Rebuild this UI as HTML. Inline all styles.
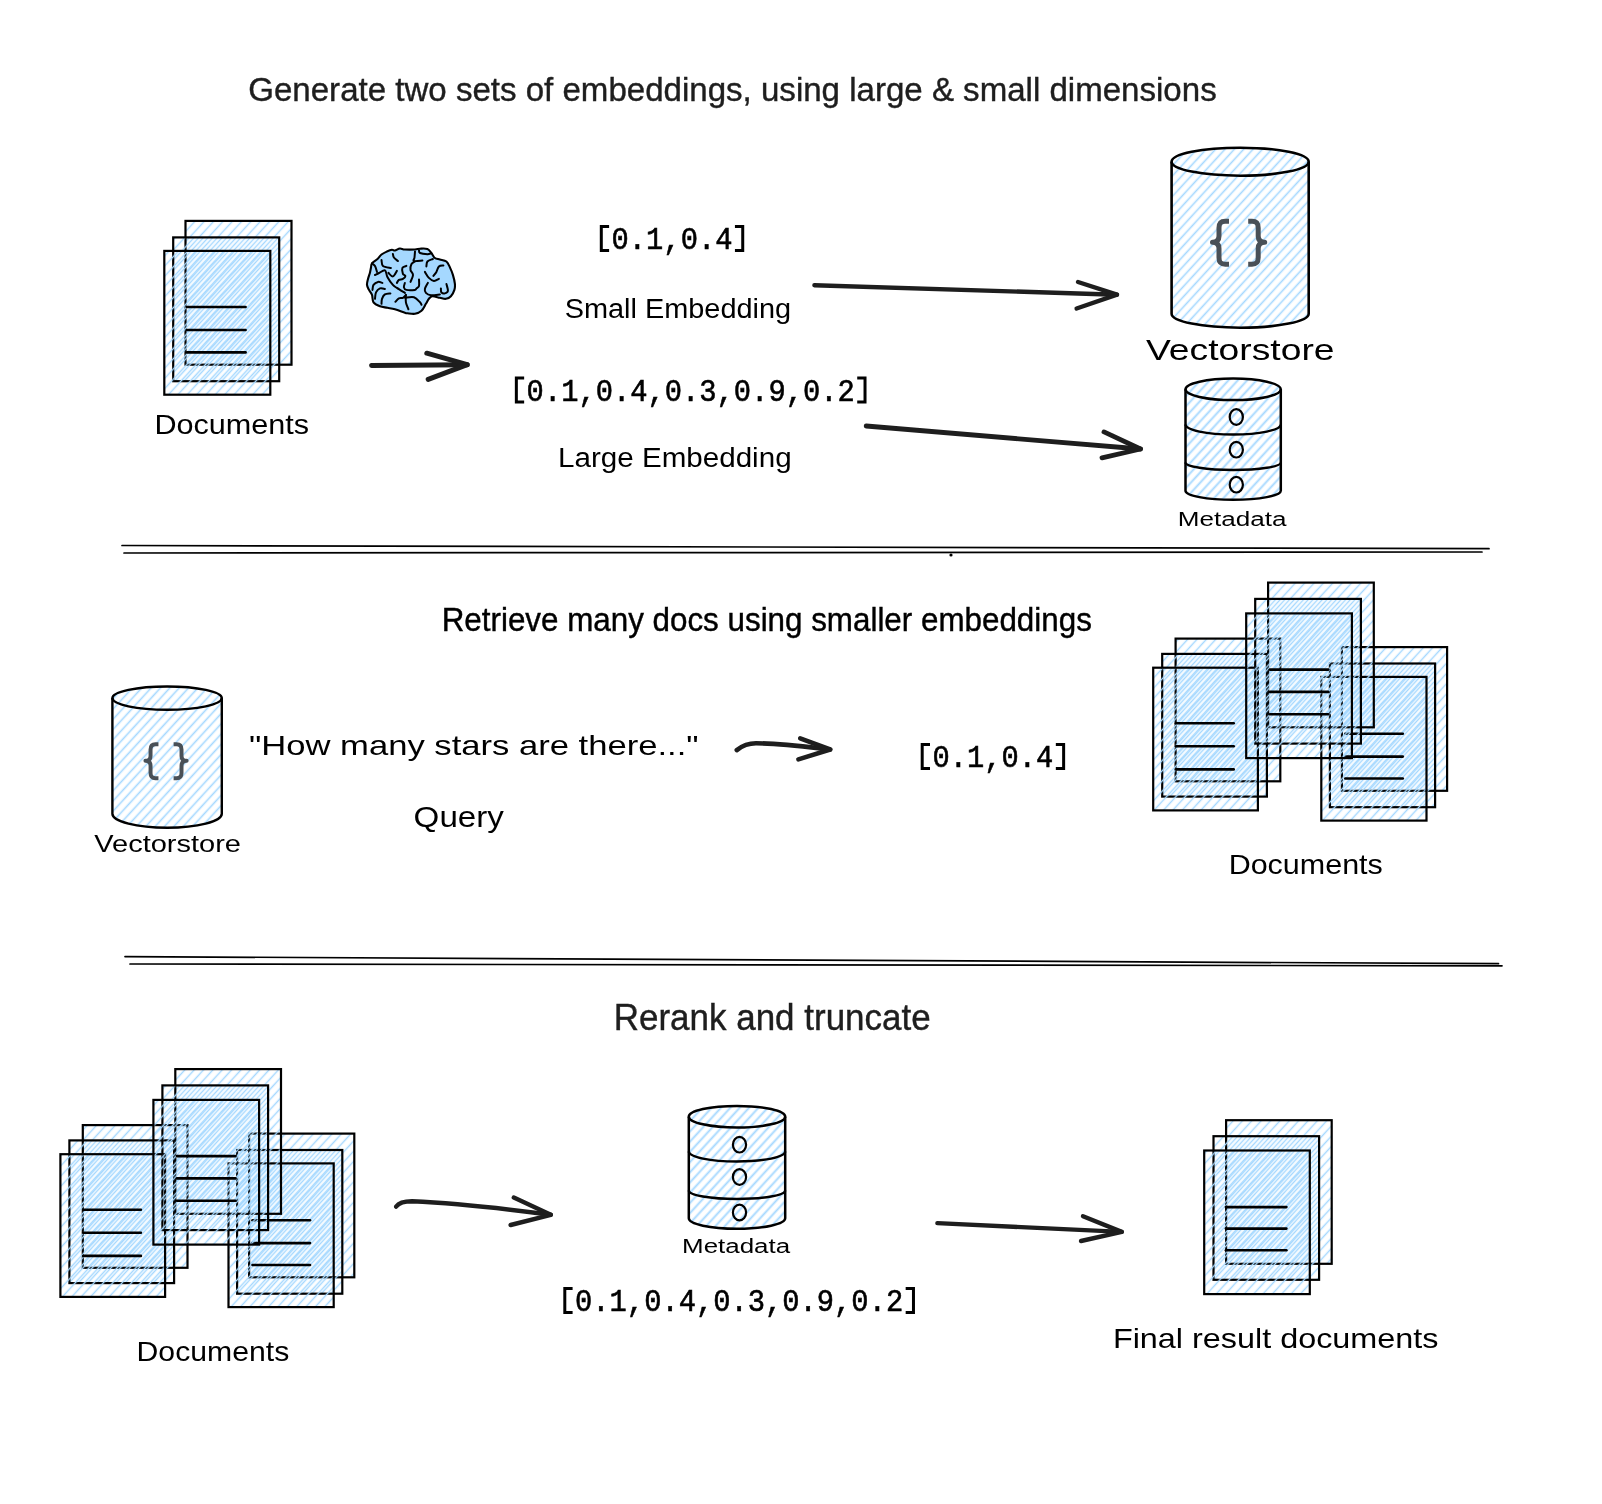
<!DOCTYPE html><html><head><meta charset="utf-8"><style>html,body{margin:0;padding:0;background:#fff;width:1602px;height:1504px;overflow:hidden}svg{display:block;will-change:transform}</style></head><body><svg width="1602" height="1504" viewBox="0 0 1602 1504">
<defs>
<pattern id="hach" patternUnits="userSpaceOnUse" width="6.9" height="20" patternTransform="rotate(42.5)"><line x1="3.45" y1="-2" x2="3.45" y2="22" stroke="#a5d8ff" stroke-width="1.45"/></pattern>
<pattern id="hachM" patternUnits="userSpaceOnUse" width="6.9" height="20" patternTransform="rotate(42.5)"><line x1="3.45" y1="-2" x2="3.45" y2="22" stroke="#a5d8ff" stroke-width="1.9"/></pattern>
<pattern id="hachC" patternUnits="userSpaceOnUse" width="6.9" height="20" patternTransform="rotate(42.5)"><line x1="3.45" y1="-2" x2="3.45" y2="22" stroke="#a5d8ff" stroke-width="1.6"/></pattern>
</defs>
<rect width="1602" height="1504" fill="#fff"/>
<g transform="translate(0,100.9) scale(1,1.03) translate(0,-100.9)"><text x="248.25" y="100.9" font-family="Liberation Sans" font-size="33" font-weight="normal" fill="#1e1e1e" textLength="968.43" lengthAdjust="spacingAndGlyphs" stroke="#1e1e1e" stroke-width="0.4">Generate two sets of embeddings, using large &amp; small dimensions</text></g>
<g transform="translate(0,0)"><rect x="185.5" y="220.9" width="106" height="143.8" fill="url(#hach)"/></g>
<rect x="185.5" y="220.9" width="106" height="143.8" fill="none" stroke="#000" stroke-width="2.2"/>
<g transform="translate(2.54,2.33)"><rect x="170.66" y="235.07" width="106" height="143.8" fill="url(#hach)"/></g>
<rect x="173.2" y="237.4" width="106" height="143.8" fill="none" stroke="#000" stroke-width="2.2"/>
<g transform="translate(0.74,0.68)"><rect x="163.56" y="250.22" width="106" height="143.8" fill="url(#hach)"/></g>
<rect x="164.3" y="250.9" width="106" height="143.8" fill="none" stroke="#000" stroke-width="2.2"/>
<line x1="187" y1="307" x2="245.6" y2="307" stroke="#000" stroke-width="2.6" stroke-linecap="round"/>
<line x1="187" y1="330" x2="245.6" y2="330" stroke="#000" stroke-width="2.6" stroke-linecap="round"/>
<line x1="187" y1="352.4" x2="245.6" y2="352.4" stroke="#000" stroke-width="2.6" stroke-linecap="round"/>
<text x="154.44" y="434" font-family="Liberation Sans" font-size="28" font-weight="normal" fill="#000" textLength="154.71" lengthAdjust="spacingAndGlyphs" stroke="#000" stroke-width="0">Documents</text>
<path d="M386.9,251.5 C388.63,250.7 390.57,249.87 391.9,249.7 C393.23,249.53 393.57,250.7 394.9,250.5 C396.23,250.3 398.23,248.67 399.9,248.5 C401.57,248.33 402.38,249.33 404.9,249.5 C407.42,249.67 412.48,249.63 415,249.5 C417.52,249.37 417.93,248.78 420,248.7 C422.07,248.62 425.5,248.28 427.4,249 C429.3,249.72 430.15,251.5 431.4,253 C432.65,254.5 433.48,256.92 434.9,258 C436.32,259.08 437.98,258.92 439.9,259.5 C441.82,260.08 444.73,260.18 446.4,261.5 C448.07,262.82 448.82,265.17 449.9,267.4 C450.98,269.63 452.07,272.15 452.9,274.9 C453.73,277.65 454.65,281.4 454.9,283.9 C455.15,286.4 455.07,287.83 454.4,289.9 C453.73,291.97 452.32,294.82 450.9,296.3 C449.48,297.78 447.73,298.55 445.9,298.8 C444.07,299.05 442.15,298.22 439.9,297.8 C437.65,297.38 434.23,296.13 432.4,296.3 C430.57,296.47 429.98,297.55 428.9,298.8 C427.82,300.05 427.13,301.8 425.9,303.8 C424.67,305.8 423.32,309.13 421.5,310.8 C419.68,312.47 417.33,313.38 415,313.8 C412.67,314.22 409.18,313.47 407.5,313.3 C405.82,313.13 407,313.47 404.9,312.8 C402.8,312.13 397.82,310.13 394.9,309.3 C391.98,308.47 389.88,308.3 387.4,307.8 C384.92,307.3 382.32,307.22 380,306.3 C377.68,305.38 374.83,304.2 373.5,302.3 C372.17,300.4 372.75,296.97 372,294.9 C371.25,292.83 369.83,291.57 369,289.9 C368.17,288.23 367.17,286.73 367,284.9 C366.83,283.07 367.5,280.98 368,278.9 C368.5,276.82 369.5,274.32 370,272.4 C370.5,270.48 370.67,268.9 371,267.4 C371.33,265.9 370.92,264.8 372,263.4 C373.08,262 375.92,260.48 377.5,259 C379.08,257.52 379.93,255.75 381.5,254.5 C383.07,253.25 385.17,252.3 386.9,251.5 Z" fill="#a5d8ff" stroke="#000" stroke-width="2.1" stroke-linejoin="round"/>
<path d="M392.9,254 C393.07,254.58 393.07,256.33 393.9,257.5 C394.73,258.67 397.23,260.42 397.9,261" fill="none" stroke="#000" stroke-width="2" stroke-linecap="round" stroke-linejoin="round"/>
<path d="M381.5,260 C381.75,261 381.43,264.67 383,266 C384.57,267.33 389.58,267.67 390.9,268" fill="none" stroke="#000" stroke-width="2" stroke-linecap="round" stroke-linejoin="round"/>
<path d="M375,275 C375.67,274.67 377.33,273.77 379,273 C380.67,272.23 383.6,269.75 385,270.4 C386.4,271.05 386.08,274.48 387.4,276.9 C388.72,279.32 391.32,283.07 392.9,284.9 C394.48,286.73 394.9,286.57 396.9,287.9 C398.9,289.23 403.57,292.07 404.9,292.9" fill="none" stroke="#000" stroke-width="2" stroke-linecap="round" stroke-linejoin="round"/>
<path d="M388.4,272.9 C389.15,273.48 391.48,276.73 392.9,276.4 C394.32,276.07 396.23,271.82 396.9,270.9" fill="none" stroke="#000" stroke-width="2" stroke-linecap="round" stroke-linejoin="round"/>
<path d="M406.4,265.9 C405.73,266.23 402.98,266.57 402.4,267.9 C401.82,269.23 402.4,272.57 402.9,273.9 C403.4,275.23 405.4,275.07 405.4,275.9 C405.4,276.73 403.98,278.23 402.9,278.9 C401.82,279.57 399.9,279.23 398.9,279.9 C397.9,280.57 397.23,282.4 396.9,282.9" fill="none" stroke="#000" stroke-width="2" stroke-linecap="round" stroke-linejoin="round"/>
<path d="M382.4,282.9 C381.67,282.73 379.48,281.57 378,281.9 C376.52,282.23 374.42,283.57 373.5,284.9 C372.58,286.23 372.67,289.07 372.5,289.9" fill="none" stroke="#000" stroke-width="2" stroke-linecap="round" stroke-linejoin="round"/>
<path d="M384.9,288.9 C384.08,288.82 381.48,287.82 380,288.4 C378.52,288.98 376.83,290.67 376,292.4 C375.17,294.13 375.17,297.73 375,298.8" fill="none" stroke="#000" stroke-width="2" stroke-linecap="round" stroke-linejoin="round"/>
<path d="M390.4,293.4 C389.48,293.57 386.3,293.5 384.9,294.4 C383.5,295.3 382.57,297.23 382,298.8 C381.43,300.37 381.58,302.97 381.5,303.8" fill="none" stroke="#000" stroke-width="2" stroke-linecap="round" stroke-linejoin="round"/>
<path d="M395.4,301.8 C395.98,301.22 397.65,298.97 398.9,298.3 C400.15,297.63 401.73,298.37 402.9,297.8 C404.07,297.23 405.4,295.38 405.9,294.9" fill="none" stroke="#000" stroke-width="2" stroke-linecap="round" stroke-linejoin="round"/>
<path d="M405.9,294.9 C405.9,296.13 405.48,299.9 405.9,302.3 C406.32,304.7 407.98,308.13 408.4,309.3" fill="none" stroke="#000" stroke-width="2" stroke-linecap="round" stroke-linejoin="round"/>
<path d="M404.9,282.9 C404.73,283.65 403.65,286.23 403.9,287.4 C404.15,288.57 404.57,289.48 406.4,289.9 C408.23,290.32 413.22,290.15 414.9,289.9 C416.58,289.65 415.82,289.07 416.5,288.4 C417.18,287.73 418.58,287.4 419,285.9 C419.42,284.4 419,280.48 419,279.4" fill="none" stroke="#000" stroke-width="2" stroke-linecap="round" stroke-linejoin="round"/>
<path d="M415,251.5 C414.92,252.5 414.67,255.92 414.5,257.5 C414.33,259.08 412.68,260.5 414,261 C415.32,261.5 421,260.58 422.4,260.5" fill="none" stroke="#000" stroke-width="2" stroke-linecap="round" stroke-linejoin="round"/>
<path d="M415,261.5 C414.42,261.92 412.25,262.58 411.5,264 C410.75,265.42 410.25,268.18 410.5,270 C410.75,271.82 413,272.92 413,274.9 C413,276.88 410.92,280.73 410.5,281.9" fill="none" stroke="#000" stroke-width="2" stroke-linecap="round" stroke-linejoin="round"/>
<path d="M426.4,266.4 C426.57,265.58 426.32,262.73 427.4,261.5 C428.48,260.27 431.98,259.42 432.9,259" fill="none" stroke="#000" stroke-width="2" stroke-linecap="round" stroke-linejoin="round"/>
<path d="M424.9,271.9 C425.57,272.9 427.4,276.4 428.9,277.9 C430.4,279.4 432.23,280.73 433.9,280.9 C435.57,281.07 438.07,279.23 438.9,278.9" fill="none" stroke="#000" stroke-width="2" stroke-linecap="round" stroke-linejoin="round"/>
<path d="M443.4,265.4 C442.65,265.57 440.07,265.32 438.9,266.4 C437.73,267.48 437.32,270.32 436.4,271.9 C435.48,273.48 433.9,275.23 433.4,275.9" fill="none" stroke="#000" stroke-width="2" stroke-linecap="round" stroke-linejoin="round"/>
<path d="M427.9,282.9 C427.4,283.9 425.23,287.23 424.9,288.9 C424.57,290.57 424.9,291.83 425.9,292.9 C426.9,293.97 428.57,295.05 430.9,295.3 C433.23,295.55 438.4,294.55 439.9,294.4" fill="none" stroke="#000" stroke-width="2" stroke-linecap="round" stroke-linejoin="round"/>
<path d="M440.9,288.4 C440.98,289.07 440.73,291.57 441.4,292.4 C442.07,293.23 443.82,293.65 444.9,293.4 C445.98,293.15 447.65,292.48 447.9,290.9 C448.15,289.32 446.65,285.07 446.4,283.9" fill="none" stroke="#000" stroke-width="2" stroke-linecap="round" stroke-linejoin="round"/>
<path d="M405,297.8 C406.5,297.72 411.5,296.55 414,297.3 C416.5,298.05 418.75,301.05 420,302.3 C421.25,303.55 421.25,304.38 421.5,304.8" fill="none" stroke="#000" stroke-width="2" stroke-linecap="round" stroke-linejoin="round"/>
<path d="M419,250.5 C419.17,250.92 418.6,252.38 420,253 C421.4,253.62 425.58,254.12 427.4,254.2 C429.22,254.28 430.32,253.62 430.9,253.5" fill="none" stroke="#000" stroke-width="2" stroke-linecap="round" stroke-linejoin="round"/>
<path d="M372,263.4 C372.5,263.83 374.17,264.57 375,266 C375.83,267.43 376.67,271 377,272" fill="none" stroke="#000" stroke-width="2" stroke-linecap="round" stroke-linejoin="round"/>
<path d="M371.6,365.6 L467.2,364.7" fill="none" stroke="#1e1e1e" stroke-width="5.0" stroke-linecap="round" stroke-linejoin="round"/>
<path d="M426.8,353.2 L467.2,364.7 L428.2,379.4" fill="none" stroke="#1e1e1e" stroke-width="5.0" stroke-linecap="round" stroke-linejoin="round"/>
<g transform="translate(0,249) scale(1,1.06) translate(0,-249)"><text x="594.3" y="249" font-family="Liberation Mono" font-size="29" fill="#000" stroke="#000" stroke-width="0.55" textLength="155.43" lengthAdjust="spacingAndGlyphs" xml:space="preserve"> 0.1,0.4 </text></g>
<path d="M609.1,226.4 L601.3,226.4 L601.3,250.5 L609.1,250.5" fill="none" stroke="#000" stroke-width="3"/>
<path d="M734.93,226.4 L742.73,226.4 L742.73,250.5 L734.93,250.5" fill="none" stroke="#000" stroke-width="3"/>
<text x="564.66" y="318" font-family="Liberation Sans" font-size="27" font-weight="normal" fill="#000" textLength="226.48" lengthAdjust="spacingAndGlyphs" stroke="#000" stroke-width="0">Small Embedding</text>
<g transform="translate(0,400.6) scale(1,1.06) translate(0,-400.6)"><text x="509.35" y="400.6" font-family="Liberation Mono" font-size="29" fill="#000" stroke="#000" stroke-width="0.55" textLength="362.67" lengthAdjust="spacingAndGlyphs" xml:space="preserve"> 0.1,0.4,0.3,0.9,0.2 </text></g>
<path d="M524.15,378 L516.35,378 L516.35,402.1 L524.15,402.1" fill="none" stroke="#000" stroke-width="3"/>
<path d="M857.22,378 L865.02,378 L865.02,402.1 L857.22,402.1" fill="none" stroke="#000" stroke-width="3"/>
<text x="558.03" y="467.4" font-family="Liberation Sans" font-size="27" font-weight="normal" fill="#000" textLength="233.58" lengthAdjust="spacingAndGlyphs" stroke="#000" stroke-width="0">Large Embedding</text>
<path d="M814.4,285.3 L1117,294.7" fill="none" stroke="#1e1e1e" stroke-width="4.4" stroke-linecap="round" stroke-linejoin="round"/>
<path d="M1078,282 L1117,294.7 L1076.6,308.5" fill="none" stroke="#1e1e1e" stroke-width="4.4" stroke-linecap="round" stroke-linejoin="round"/>
<path d="M866.2,426 L1140.5,449" fill="none" stroke="#1e1e1e" stroke-width="4.8" stroke-linecap="round" stroke-linejoin="round"/>
<path d="M1104,431.9 L1140.5,449 L1102,457.8" fill="none" stroke="#1e1e1e" stroke-width="4.8" stroke-linecap="round" stroke-linejoin="round"/>
<g transform="translate(1171.6,147.7)"><path transform="translate(-1171.6,-147.7)" d="M1171.6,161.7 L1171.6,313.7 A68.55,14 0 0 0 1308.7,313.7 L1308.7,161.7 A68.55,14 0 0 0 1171.6,161.7 Z" fill="url(#hachC)"/></g>
<path d="M1171.6,161.7 L1171.6,313.7 A68.55,14 0 0 0 1308.7,313.7 L1308.7,161.7" fill="none" stroke="#000" stroke-width="2.6" stroke-linejoin="round"/>
<ellipse cx="1240.15" cy="161.7" rx="68.55" ry="14" fill="none" stroke="#000" stroke-width="2.6"/>
<g transform="translate(1210.2,219) scale(1.0)" fill="none" stroke="#495057" stroke-width="5" stroke-linejoin="round"><path d="M18.8,2.3 L15,2.3 C10.5,2.3 8.8,4.5 8.8,9 L8.8,17 C8.8,21 6.5,23.2 2.3,23.2 C6.5,23.2 8.8,25.4 8.8,29.5 L8.8,38.5 C8.8,43 10.5,45.2 15,45.2 L18.8,45.2"/><path transform="translate(56.8,0) scale(-1,1)" d="M18.8,2.3 L15,2.3 C10.5,2.3 8.8,4.5 8.8,9 L8.8,17 C8.8,21 6.5,23.2 2.3,23.2 C6.5,23.2 8.8,25.4 8.8,29.5 L8.8,38.5 C8.8,43 10.5,45.2 15,45.2 L18.8,45.2"/></g>
<text x="1146.08" y="360.3" font-family="Liberation Sans" font-size="29" font-weight="normal" fill="#000" textLength="188.45" lengthAdjust="spacingAndGlyphs" stroke="#000" stroke-width="0">Vectorstore</text>
<g transform="translate(1185.5,378.5)"><path transform="translate(-1185.5,-378.5)" d="M1185.5,389.3 L1185.5,490.75 A47.65,9 0 0 0 1280.8,490.75 L1280.8,389.3 A47.65,10.8 0 0 0 1185.5,389.3 Z" fill="url(#hachM)"/></g>
<path d="M1185.5,389.3 L1185.5,490.75 A47.65,9 0 0 0 1280.8,490.75 L1280.8,389.3" fill="none" stroke="#000" stroke-width="2.5" stroke-linejoin="round"/>
<ellipse cx="1233.15" cy="389.3" rx="47.65" ry="10.8" fill="none" stroke="#000" stroke-width="2.5"/>
<path d="M1185.5,424.5 A47.65,10 0 0 0 1280.8,424.5" fill="none" stroke="#000" stroke-width="2.4"/>
<path d="M1185.5,462.5 A47.65,7.5 0 0 0 1280.8,462.5" fill="none" stroke="#000" stroke-width="2.4"/>
<ellipse cx="1236.3" cy="417" rx="6.6" ry="7.8" fill="none" stroke="#000" stroke-width="2.2"/>
<ellipse cx="1236.3" cy="449.7" rx="6.6" ry="7.8" fill="none" stroke="#000" stroke-width="2.2"/>
<ellipse cx="1236.3" cy="484.7" rx="6.6" ry="7.8" fill="none" stroke="#000" stroke-width="2.2"/>
<text x="1177.85" y="526" font-family="Liberation Sans" font-size="20" font-weight="normal" fill="#000" textLength="108.61" lengthAdjust="spacingAndGlyphs" stroke="#000" stroke-width="0">Metadata</text>
<line x1="122" y1="545.5" x2="1489" y2="548.7" stroke="#000" stroke-width="1.7" stroke-linecap="round"/>
<line x1="124" y1="553" x2="1482" y2="552" stroke="#000" stroke-width="1.7" stroke-linecap="round"/>
<circle cx="951" cy="555" r="1.6" fill="#000"/>
<g transform="translate(0,630.9) scale(1,1.03) translate(0,-630.9)"><text x="441.7" y="630.9" font-family="Liberation Sans" font-size="31.4" font-weight="normal" fill="#000" textLength="650.14" lengthAdjust="spacingAndGlyphs" stroke="#000" stroke-width="0.4">Retrieve many docs using smaller embeddings</text></g>
<g transform="translate(112.4,686.5)"><path transform="translate(-112.4,-686.5)" d="M112.4,698.1 L112.4,813.8 A54.7,14 0 0 0 221.8,813.8 L221.8,698.1 A54.7,11.6 0 0 0 112.4,698.1 Z" fill="url(#hachC)"/></g>
<path d="M112.4,698.1 L112.4,813.8 A54.7,14 0 0 0 221.8,813.8 L221.8,698.1" fill="none" stroke="#000" stroke-width="2.4" stroke-linejoin="round"/>
<ellipse cx="167.1" cy="698.1" rx="54.7" ry="11.6" fill="none" stroke="#000" stroke-width="2.4"/>
<g transform="translate(143.6,742.5) scale(0.79)" fill="none" stroke="#495057" stroke-width="5" stroke-linejoin="round"><path d="M18.8,2.3 L15,2.3 C10.5,2.3 8.8,4.5 8.8,9 L8.8,17 C8.8,21 6.5,23.2 2.3,23.2 C6.5,23.2 8.8,25.4 8.8,29.5 L8.8,38.5 C8.8,43 10.5,45.2 15,45.2 L18.8,45.2"/><path transform="translate(56.8,0) scale(-1,1)" d="M18.8,2.3 L15,2.3 C10.5,2.3 8.8,4.5 8.8,9 L8.8,17 C8.8,21 6.5,23.2 2.3,23.2 C6.5,23.2 8.8,25.4 8.8,29.5 L8.8,38.5 C8.8,43 10.5,45.2 15,45.2 L18.8,45.2"/></g>
<text x="94.28" y="851.5" font-family="Liberation Sans" font-size="23" font-weight="normal" fill="#000" textLength="146.69" lengthAdjust="spacingAndGlyphs" stroke="#000" stroke-width="0">Vectorstore</text>
<text x="248.96" y="754.5" font-family="Liberation Sans" font-size="28" font-weight="normal" fill="#000" textLength="449.63" lengthAdjust="spacingAndGlyphs" stroke="#000" stroke-width="0">"How many stars are there..."</text>
<text x="413.64" y="827.4" font-family="Liberation Sans" font-size="30" font-weight="normal" fill="#000" textLength="90.28" lengthAdjust="spacingAndGlyphs" stroke="#000" stroke-width="0">Query</text>
<path d="M736.8,750.1 C742,746 747,743.3 756,743.3 C780,743.3 800,746 830.2,749.5" fill="none" stroke="#1e1e1e" stroke-width="4.6" stroke-linecap="round" stroke-linejoin="round"/>
<path d="M800.2,738.4 L830.2,749.5 L798.4,759.4" fill="none" stroke="#1e1e1e" stroke-width="4.6" stroke-linecap="round" stroke-linejoin="round"/>
<g transform="translate(0,767) scale(1,1.06) translate(0,-767)"><text x="915.2" y="767" font-family="Liberation Mono" font-size="29" fill="#000" stroke="#000" stroke-width="0.55" textLength="155.43" lengthAdjust="spacingAndGlyphs" xml:space="preserve"> 0.1,0.4 </text></g>
<path d="M930,744.4 L922.2,744.4 L922.2,768.5 L930,768.5" fill="none" stroke="#000" stroke-width="3"/>
<path d="M1055.83,744.4 L1063.63,744.4 L1063.63,768.5 L1055.83,768.5" fill="none" stroke="#000" stroke-width="3"/>
<g transform="translate(0,0)"><rect x="1175.6" y="638.6" width="104.7" height="142.7" fill="url(#hach)"/></g>
<rect x="1175.6" y="638.6" width="104.7" height="142.7" fill="none" stroke="#000" stroke-width="2.2"/>
<g transform="translate(2.54,2.33)"><rect x="1159.66" y="651.57" width="104.7" height="142.7" fill="url(#hach)"/></g>
<rect x="1162.2" y="653.9" width="104.7" height="142.7" fill="none" stroke="#000" stroke-width="2.2"/>
<g transform="translate(0.74,0.68)"><rect x="1152.46" y="667.02" width="104.7" height="142.7" fill="url(#hach)"/></g>
<rect x="1153.2" y="667.7" width="104.7" height="142.7" fill="none" stroke="#000" stroke-width="2.2"/>
<line x1="1176" y1="723.2" x2="1233.7" y2="723.2" stroke="#000" stroke-width="2.6" stroke-linecap="round"/>
<line x1="1176" y1="746.2" x2="1233.7" y2="746.2" stroke="#000" stroke-width="2.6" stroke-linecap="round"/>
<line x1="1176" y1="769.4" x2="1233.7" y2="769.4" stroke="#000" stroke-width="2.6" stroke-linecap="round"/>
<g transform="translate(0,0)"><rect x="1341.9" y="647.1" width="105.2" height="143.7" fill="url(#hach)"/></g>
<rect x="1341.9" y="647.1" width="105.2" height="143.7" fill="none" stroke="#000" stroke-width="2.2"/>
<g transform="translate(2.54,2.33)"><rect x="1327.36" y="661.17" width="105.2" height="143.7" fill="url(#hach)"/></g>
<rect x="1329.9" y="663.5" width="105.2" height="143.7" fill="none" stroke="#000" stroke-width="2.2"/>
<g transform="translate(0.74,0.68)"><rect x="1320.56" y="676.22" width="105.2" height="143.7" fill="url(#hach)"/></g>
<rect x="1321.3" y="676.9" width="105.2" height="143.7" fill="none" stroke="#000" stroke-width="2.2"/>
<line x1="1345.3" y1="733.8" x2="1402.8" y2="733.8" stroke="#000" stroke-width="2.6" stroke-linecap="round"/>
<line x1="1345.3" y1="756.6" x2="1402.8" y2="756.6" stroke="#000" stroke-width="2.6" stroke-linecap="round"/>
<line x1="1345.3" y1="778.5" x2="1402.8" y2="778.5" stroke="#000" stroke-width="2.6" stroke-linecap="round"/>
<g transform="translate(0,0)"><rect x="1268.1" y="582.6" width="105.7" height="144.7" fill="url(#hach)"/></g>
<rect x="1268.1" y="582.6" width="105.7" height="144.7" fill="none" stroke="#000" stroke-width="2.2"/>
<g transform="translate(2.54,2.33)"><rect x="1252.66" y="596.57" width="105.7" height="144.7" fill="url(#hach)"/></g>
<rect x="1255.2" y="598.9" width="105.7" height="144.7" fill="none" stroke="#000" stroke-width="2.2"/>
<g transform="translate(0.74,0.68)"><rect x="1245.46" y="612.72" width="105.7" height="144.7" fill="url(#hach)"/></g>
<rect x="1246.2" y="613.4" width="105.7" height="144.7" fill="none" stroke="#000" stroke-width="2.2"/>
<line x1="1269.8" y1="669.6" x2="1328.3" y2="669.6" stroke="#000" stroke-width="2.6" stroke-linecap="round"/>
<line x1="1269.8" y1="691.9" x2="1328.3" y2="691.9" stroke="#000" stroke-width="2.6" stroke-linecap="round"/>
<line x1="1269.8" y1="714.3" x2="1328.3" y2="714.3" stroke="#000" stroke-width="2.6" stroke-linecap="round"/>
<text x="1228.65" y="874" font-family="Liberation Sans" font-size="28" font-weight="normal" fill="#000" textLength="154.2" lengthAdjust="spacingAndGlyphs" stroke="#000" stroke-width="0">Documents</text>
<line x1="125" y1="956.6" x2="1498.5" y2="963.7" stroke="#000" stroke-width="1.7" stroke-linecap="round"/>
<line x1="130" y1="964" x2="1502" y2="965.8" stroke="#000" stroke-width="1.7" stroke-linecap="round"/>
<g transform="translate(0,1029.8) scale(1,1.03) translate(0,-1029.8)"><text x="613.75" y="1029.8" font-family="Liberation Sans" font-size="35" font-weight="normal" fill="#1e1e1e" textLength="316.94" lengthAdjust="spacingAndGlyphs" stroke="#1e1e1e" stroke-width="0.4">Rerank and truncate</text></g>
<g transform="translate(0,0)"><rect x="82.8" y="1125.1" width="104.7" height="142.7" fill="url(#hach)"/></g>
<rect x="82.8" y="1125.1" width="104.7" height="142.7" fill="none" stroke="#000" stroke-width="2.2"/>
<g transform="translate(2.54,2.33)"><rect x="66.86" y="1138.07" width="104.7" height="142.7" fill="url(#hach)"/></g>
<rect x="69.4" y="1140.4" width="104.7" height="142.7" fill="none" stroke="#000" stroke-width="2.2"/>
<g transform="translate(0.74,0.68)"><rect x="59.66" y="1153.52" width="104.7" height="142.7" fill="url(#hach)"/></g>
<rect x="60.4" y="1154.2" width="104.7" height="142.7" fill="none" stroke="#000" stroke-width="2.2"/>
<line x1="83.2" y1="1209.7" x2="140.9" y2="1209.7" stroke="#000" stroke-width="2.6" stroke-linecap="round"/>
<line x1="83.2" y1="1232.7" x2="140.9" y2="1232.7" stroke="#000" stroke-width="2.6" stroke-linecap="round"/>
<line x1="83.2" y1="1255.9" x2="140.9" y2="1255.9" stroke="#000" stroke-width="2.6" stroke-linecap="round"/>
<g transform="translate(0,0)"><rect x="249.1" y="1133.6" width="105.2" height="143.7" fill="url(#hach)"/></g>
<rect x="249.1" y="1133.6" width="105.2" height="143.7" fill="none" stroke="#000" stroke-width="2.2"/>
<g transform="translate(2.54,2.33)"><rect x="234.56" y="1147.67" width="105.2" height="143.7" fill="url(#hach)"/></g>
<rect x="237.1" y="1150" width="105.2" height="143.7" fill="none" stroke="#000" stroke-width="2.2"/>
<g transform="translate(0.74,0.68)"><rect x="227.76" y="1162.72" width="105.2" height="143.7" fill="url(#hach)"/></g>
<rect x="228.5" y="1163.4" width="105.2" height="143.7" fill="none" stroke="#000" stroke-width="2.2"/>
<line x1="252.5" y1="1220.3" x2="310" y2="1220.3" stroke="#000" stroke-width="2.6" stroke-linecap="round"/>
<line x1="252.5" y1="1243.1" x2="310" y2="1243.1" stroke="#000" stroke-width="2.6" stroke-linecap="round"/>
<line x1="252.5" y1="1265" x2="310" y2="1265" stroke="#000" stroke-width="2.6" stroke-linecap="round"/>
<g transform="translate(0,0)"><rect x="175.3" y="1069.1" width="105.7" height="144.7" fill="url(#hach)"/></g>
<rect x="175.3" y="1069.1" width="105.7" height="144.7" fill="none" stroke="#000" stroke-width="2.2"/>
<g transform="translate(2.54,2.33)"><rect x="159.86" y="1083.07" width="105.7" height="144.7" fill="url(#hach)"/></g>
<rect x="162.4" y="1085.4" width="105.7" height="144.7" fill="none" stroke="#000" stroke-width="2.2"/>
<g transform="translate(0.74,0.68)"><rect x="152.66" y="1099.22" width="105.7" height="144.7" fill="url(#hach)"/></g>
<rect x="153.4" y="1099.9" width="105.7" height="144.7" fill="none" stroke="#000" stroke-width="2.2"/>
<line x1="177" y1="1156.1" x2="235.5" y2="1156.1" stroke="#000" stroke-width="2.6" stroke-linecap="round"/>
<line x1="177" y1="1178.4" x2="235.5" y2="1178.4" stroke="#000" stroke-width="2.6" stroke-linecap="round"/>
<line x1="177" y1="1200.8" x2="235.5" y2="1200.8" stroke="#000" stroke-width="2.6" stroke-linecap="round"/>
<text x="136.57" y="1361" font-family="Liberation Sans" font-size="28" font-weight="normal" fill="#000" textLength="152.67" lengthAdjust="spacingAndGlyphs" stroke="#000" stroke-width="0">Documents</text>
<path d="M396.2,1206.6 C399,1202.6 404,1201.3 412,1201.3 C450,1203 500,1208 550.8,1214.8" fill="none" stroke="#1e1e1e" stroke-width="4.4" stroke-linecap="round" stroke-linejoin="round"/>
<path d="M513.8,1197.6 L550.8,1214.8 L510.6,1225" fill="none" stroke="#1e1e1e" stroke-width="4.4" stroke-linecap="round" stroke-linejoin="round"/>
<g transform="translate(688.8,1105.9)"><path transform="translate(-688.8,-1105.9)" d="M688.8,1116.7 L688.8,1218.25 A48.2,10.5 0 0 0 785.2,1218.25 L785.2,1116.7 A48.2,10.8 0 0 0 688.8,1116.7 Z" fill="url(#hachM)"/></g>
<path d="M688.8,1116.7 L688.8,1218.25 A48.2,10.5 0 0 0 785.2,1218.25 L785.2,1116.7" fill="none" stroke="#000" stroke-width="2.5" stroke-linejoin="round"/>
<ellipse cx="737" cy="1116.7" rx="48.2" ry="10.8" fill="none" stroke="#000" stroke-width="2.5"/>
<path d="M688.8,1151.5 A48.2,10 0 0 0 785.2,1151.5" fill="none" stroke="#000" stroke-width="2.4"/>
<path d="M688.8,1190.5 A48.2,8.5 0 0 0 785.2,1190.5" fill="none" stroke="#000" stroke-width="2.4"/>
<ellipse cx="739.5" cy="1144.7" rx="6.6" ry="7.8" fill="none" stroke="#000" stroke-width="2.2"/>
<ellipse cx="739.5" cy="1177" rx="6.6" ry="7.8" fill="none" stroke="#000" stroke-width="2.2"/>
<ellipse cx="739.5" cy="1212.5" rx="6.6" ry="7.8" fill="none" stroke="#000" stroke-width="2.2"/>
<text x="682.06" y="1253.2" font-family="Liberation Sans" font-size="20" font-weight="normal" fill="#000" textLength="108.1" lengthAdjust="spacingAndGlyphs" stroke="#000" stroke-width="0">Metadata</text>
<g transform="translate(0,1311.1) scale(1,1.06) translate(0,-1311.1)"><text x="557.8" y="1311.1" font-family="Liberation Mono" font-size="29" fill="#000" stroke="#000" stroke-width="0.55" textLength="362.67" lengthAdjust="spacingAndGlyphs" xml:space="preserve"> 0.1,0.4,0.3,0.9,0.2 </text></g>
<path d="M572.6,1288.5 L564.8,1288.5 L564.8,1312.6 L572.6,1312.6" fill="none" stroke="#000" stroke-width="3"/>
<path d="M905.67,1288.5 L913.47,1288.5 L913.47,1312.6 L905.67,1312.6" fill="none" stroke="#000" stroke-width="3"/>
<path d="M937.4,1223.1 L1121.8,1231.9" fill="none" stroke="#1e1e1e" stroke-width="4.4" stroke-linecap="round" stroke-linejoin="round"/>
<path d="M1083,1216.2 L1121.8,1231.9 L1081,1241" fill="none" stroke="#1e1e1e" stroke-width="4.4" stroke-linecap="round" stroke-linejoin="round"/>
<g transform="translate(0,0)"><rect x="1226.1" y="1120.2" width="105.6" height="143.6" fill="url(#hach)"/></g>
<rect x="1226.1" y="1120.2" width="105.6" height="143.6" fill="none" stroke="#000" stroke-width="2.2"/>
<g transform="translate(2.54,2.33)"><rect x="1210.96" y="1133.87" width="105.6" height="143.6" fill="url(#hach)"/></g>
<rect x="1213.5" y="1136.2" width="105.6" height="143.6" fill="none" stroke="#000" stroke-width="2.2"/>
<g transform="translate(0.74,0.68)"><rect x="1203.46" y="1149.82" width="105.6" height="143.6" fill="url(#hach)"/></g>
<rect x="1204.2" y="1150.5" width="105.6" height="143.6" fill="none" stroke="#000" stroke-width="2.2"/>
<line x1="1225.9" y1="1207.1" x2="1286.4" y2="1207.1" stroke="#000" stroke-width="2.6" stroke-linecap="round"/>
<line x1="1225.9" y1="1228.6" x2="1286.4" y2="1228.6" stroke="#000" stroke-width="2.6" stroke-linecap="round"/>
<line x1="1225.9" y1="1250.3" x2="1286.4" y2="1250.3" stroke="#000" stroke-width="2.6" stroke-linecap="round"/>
<text x="1112.9" y="1347.7" font-family="Liberation Sans" font-size="28" font-weight="normal" fill="#000" textLength="325.58" lengthAdjust="spacingAndGlyphs" stroke="#000" stroke-width="0">Final result documents</text>
</svg></body></html>
